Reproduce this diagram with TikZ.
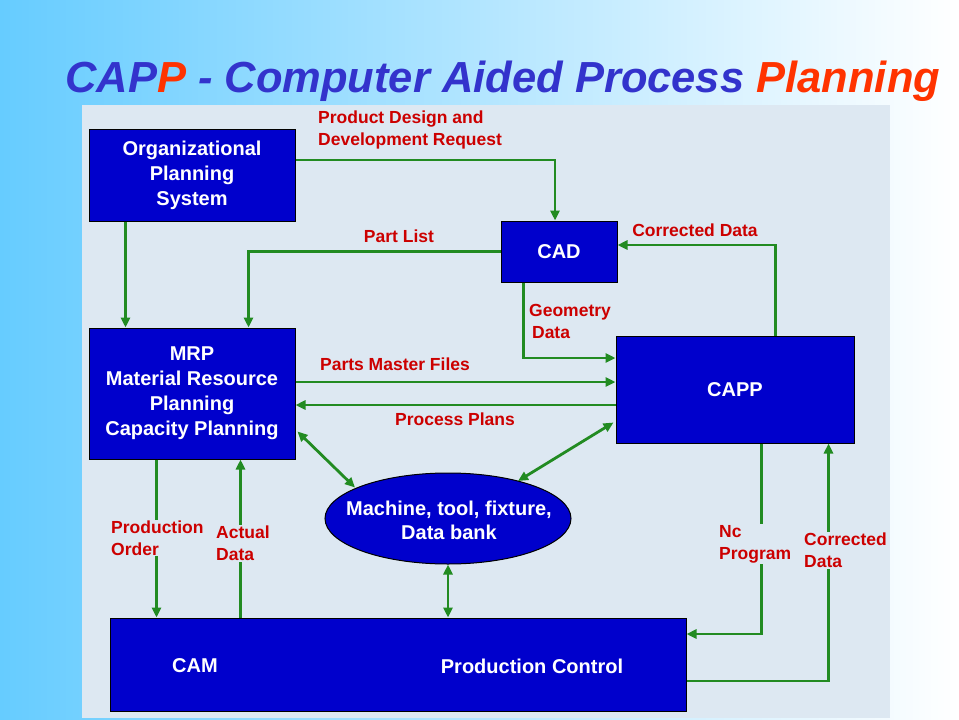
\documentclass[tikz,border=0pt]{standalone}
\usepackage{fontspec}
\setmainfont{Liberation Sans}
\usetikzlibrary{arrows.meta,calc,shapes.geometric}
\definecolor{panel}{RGB}{221,232,242}
\definecolor{boxblue}{RGB}{0,0,204}
\definecolor{arrgreen}{RGB}{34,139,34}
\definecolor{lblred}{RGB}{204,0,0}
\definecolor{titleblue}{RGB}{51,51,204}
\definecolor{titlered}{RGB}{255,51,0}
\definecolor{bgblue}{RGB}{102,204,255}
\definecolor{bgmid}{RGB}{190,228,250}
\tikzset{
  bluebox/.style={draw=black, line width=1pt, fill=boxblue, text=white, align=center, inner sep=0pt,
    font=\fontsize{20}{25}\selectfont\bfseries},
  blueell/.style={ellipse, draw=black, line width=1pt, fill=boxblue, inner sep=0pt},
  intext/.style={text=white, inner sep=0pt, align=center, font=\fontsize{20}{25}\selectfont\bfseries},
  lbl/.style={text=lblred, fill=panel, inner sep=1pt, font=\fontsize{17.5}{22}\selectfont\bfseries},
  tip/.tip={Triangle[length=10pt,width=9pt]},
  arr/.style={draw=arrgreen, line width=2.8pt, -tip},
  darr/.style={draw=arrgreen, line width=2.8pt, tip-tip},
}
\begin{document}
\begin{tikzpicture}[x=1pt,y=-1pt]
\useasboundingbox (0,0) rectangle (959,720);
\shade[left color=bgblue, middle color=bgmid, right color=white] (0,0) rectangle (959,720);
\fill[panel] (82,105) rectangle (890,718);

\node[anchor=base west, inner sep=0pt, font=\fontsize{43.5}{48}\selectfont\bfseries\itshape, text=titleblue] (title) at (65,92)
  {CAP{\color{titlered}P} - Computer Aided Process {\color{titlered}Planning}};

% boxes
\node[bluebox, minimum width=206pt, minimum height=92pt] (org) at (192,175) {Organizational\\Planning\\System};
\node[bluebox, minimum width=116pt, minimum height=61pt] (cad) at (559,251.5) {CAD};
\node[bluebox, minimum width=206pt, minimum height=131pt] (mrp) at (192,393.5) {MRP\\Material Resource\\Planning\\Capacity Planning};
\node[bluebox, minimum width=238pt, minimum height=107pt] (capp) at (735,389.5) {CAPP};
\node[blueell, minimum width=246pt, minimum height=91pt] (ell) at (448,518.5) {};
\node[intext, font=\fontsize{20}{24}\selectfont\bfseries] (elltxt) at ($(ell.center)+(1,2)$) {Machine, tool, fixture,\\Data bank};
\node[bluebox, minimum width=576pt, minimum height=93pt] (cam) at (398,664.5) {};
\node[intext] (camtxt) at (195,666) {CAM};
\node[intext] (pctxt) at (532,666) {Production Control};

% helper coordinates
\coordinate (pm) at ($(mrp.east)+(0,-11.5)$);
\coordinate (pp) at ($(mrp.east)+(0,11.5)$);
\coordinate (po) at ($(mrp.south west)+(68,0)$);
\coordinate (ad) at ($(mrp.south west)+(152,0)$);

% connectors
\draw[arr] ($(org.south west)+(37,0)$) -- ($(mrp.north west)+(37,0)$);
\draw[arr] ($(org.east)+(0,-15)$) -| ($(cad.north)+(-4,0)$);
\draw[arr] (cad.west) -| ($(mrp.north west)+(160,0)$);
\draw[arr] ($(cad.south west)+(23,0)$) |- ($(capp.west)+(0,-31.5)$);
\draw[arr] ($(capp.north west)+(160,0)$) |- ($(cad.east)+(0,-6.5)$);
\draw[arr] (pm) -- (pm -| capp.west);
\draw[arr] (pp -| capp.west) -- (pp);
\draw[darr] ($(mrp.south east)+(2,-28)$) -- ($(ell.center)+(-93,-31)$);
\draw[darr] ($(capp.south west)+(-2,-21)$) -- ($(ell.center)+(70,-37.5)$);
\draw[arr] (po) -- (po |- cam.north);
\draw[arr] (ad |- cam.north) -- (ad);
\draw[darr] (ell.south) -- (ell.south |- cam.north);
\draw[arr] ($(capp.south west)+(146,0)$) |- ($(cam.east)+(0,-30.5)$);
\draw[arr] ($(cam.east)+(0,16.5)$) -| ($(capp.south west)+(213,0)$);

% labels
\node[lbl, anchor=west, align=left] (l1) at (317,130) {Product Design and\\Development Request};
\node[lbl] (l2) at (399,236) {Part List};
\node[lbl] (l3) at (695,230) {Corrected Data};
\node[lbl, anchor=west, align=left] (l4) at (528,321) {Geometry\\\,Data};
\node[lbl] (l5) at (395,364) {Parts Master Files};
\node[lbl] (l6) at (455,419) {Process Plans};
\node[lbl, anchor=west, align=left] (l7) at (110,538) {Production\\Order};
\node[lbl, anchor=west, align=left] (l8) at (215,543.5) {Actual\\Data};
\node[lbl, anchor=west, align=left] (l9) at (718,544) {Nc\\Program};
\node[lbl, anchor=west, align=left] (l10) at (803,550.5) {Corrected\\Data};
\end{tikzpicture}
\end{document}
